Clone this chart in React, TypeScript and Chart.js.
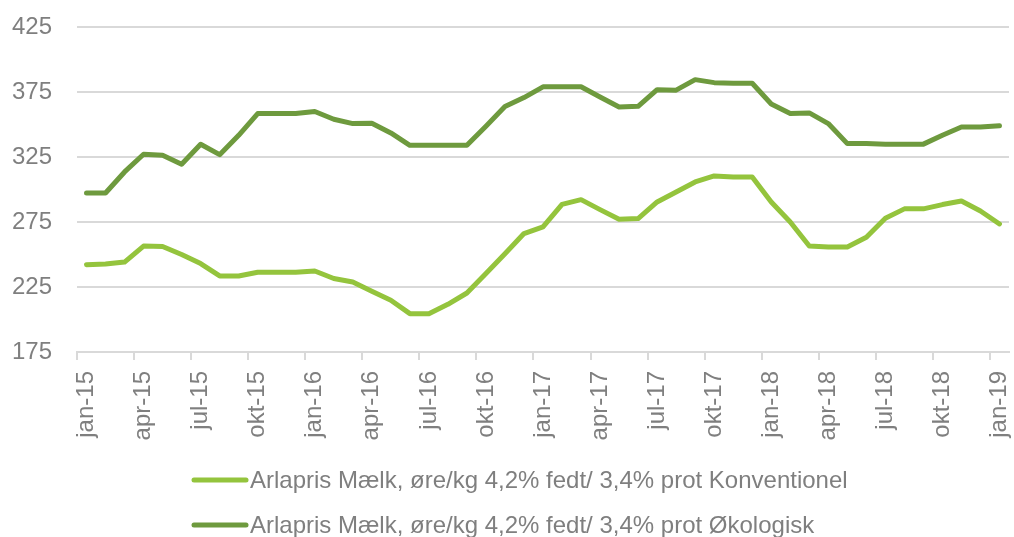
import React, { useEffect, useRef } from "react";
import { Chart, registerables } from "chart.js";

Chart.register(...registerables);

const months: string[] = [
  "jan-15", "feb-15", "mar-15", "apr-15", "maj-15", "jun-15", "jul-15", "aug-15", "sep-15", "okt-15", "nov-15", "dec-15",
  "jan-16", "feb-16", "mar-16", "apr-16", "maj-16", "jun-16", "jul-16", "aug-16", "sep-16", "okt-16", "nov-16", "dec-16",
  "jan-17", "feb-17", "mar-17", "apr-17", "maj-17", "jun-17", "jul-17", "aug-17", "sep-17", "okt-17", "nov-17", "dec-17",
  "jan-18", "feb-18", "mar-18", "apr-18", "maj-18", "jun-18", "jul-18", "aug-18", "sep-18", "okt-18", "nov-18", "dec-18",
  "jan-19",
];

const konventionel: number[] = [
  242.2, 242.7, 244.2, 256.5, 256.2, 250.0, 243.0, 233.5, 233.5, 236.3, 236.3, 236.3,
  237.3, 231.5, 228.8, 221.7, 214.8, 204.5, 204.5, 211.7, 220.4, 235.3, 250.5, 266.1,
  271.2, 288.6, 292.2, 284.5, 277.1, 277.6, 290.4, 298.1, 305.8, 310.4, 309.6, 309.6,
  290.4, 275.0, 256.5, 255.8, 255.8, 263.3, 277.9, 285.1, 285.1, 288.4, 291.2, 283.5,
  273.5,
];

const oekologisk: number[] = [
  297.3, 297.3, 313.5, 327.1, 326.3, 319.4, 334.8, 326.8, 341.7, 358.4, 358.4, 358.4,
  360.0, 354.0, 350.7, 351.0, 343.5, 334.0, 334.0, 334.0, 334.0, 348.6, 363.8, 370.7,
  379.0, 379.0, 379.0, 371.2, 363.5, 364.0, 376.8, 376.4, 384.5, 382.2, 381.7, 381.7,
  365.8, 358.4, 358.9, 350.7, 335.3, 335.3, 334.9, 334.9, 334.9, 341.7, 348.1, 348.1,
  349.1,
];

const seriesNames: string[] = [
  "Arlapris Mælk, øre/kg 4,2% fedt/ 3,4% prot Konventionel",
  "Arlapris Mælk, øre/kg 4,2% fedt/ 3,4% prot Økologisk",
];

const LIGHT = "#94C43D";
const DARK = "#6E9A3E";
const TEXT = "#7F7F7F";
const GRID = "#D9D9D9";
const FONT = "'Liberation Sans', Arial, sans-serif";

const legendPlugin = {
  id: "customLegend",
  afterDraw(chart: any) {
    const ctx = chart.ctx;
    const items = chart.data.datasets.map((d: any) => ({ label: d.label, color: d.borderColor }));
    const rows = [480, 525];
    ctx.save();
    items.forEach((it: any, i: number) => {
      const y = rows[i];
      ctx.strokeStyle = it.color;
      ctx.lineWidth = 5;
      ctx.lineCap = "round";
      ctx.beginPath();
      ctx.moveTo(194, y);
      ctx.lineTo(246, y);
      ctx.stroke();
      ctx.fillStyle = TEXT;
      ctx.font = `24px ${FONT}`;
      ctx.textBaseline = "middle";
      ctx.textAlign = "left";
      ctx.fillText(it.label, 250, y + 1);
    });
    ctx.restore();
  },
};

export default function App() {
  const ref = useRef<HTMLCanvasElement | null>(null);

  useEffect(() => {
    if (!ref.current) return;
    const chart = new Chart(ref.current, {
      type: "line",
      data: {
        labels: months,
        datasets: [
          {
            label: seriesNames[0],
            data: konventionel,
            borderColor: LIGHT,
            backgroundColor: LIGHT,
            borderWidth: 5,
            pointRadius: 0,
            tension: 0,
            borderCapStyle: "round",
            borderJoinStyle: "round",
          },
          {
            label: seriesNames[1],
            data: oekologisk,
            borderColor: DARK,
            backgroundColor: DARK,
            borderWidth: 5,
            pointRadius: 0,
            tension: 0,
            borderCapStyle: "round",
            borderJoinStyle: "round",
          },
        ],
      },
      options: {
        animation: false,
        responsive: false,
        devicePixelRatio: 1,
        layout: { padding: { top: 27, right: 5, left: 0, bottom: 0 } },
        plugins: {
          legend: { display: false },
          tooltip: { enabled: false },
        },
        scales: {
          x: {
            offset: true,
            grid: {
              offset: true,
              drawOnChartArea: false,
              drawTicks: true,
              tickLength: 8,
              lineWidth: 2,
              color: (c: any) => (c.index % 3 === 0 ? GRID : "rgba(0,0,0,0)"),
            },
            border: { display: true, color: GRID, width: 2 },
            ticks: {
              autoSkip: false,
              minRotation: 90,
              maxRotation: 90,
              padding: 11,
              color: TEXT,
              font: { family: FONT, size: 24 },
              callback: (_v: any, i: number) => (i % 3 === 0 ? months[i] : ""),
            },
            afterFit: (scale: any) => {
              scale.height = 185;
              scale.paddingLeft = 0;
              scale.paddingRight = 0;
            },
          },
          y: {
            min: 175,
            max: 425,
            grid: { color: GRID, lineWidth: 2, drawTicks: false },
            border: { display: false },
            ticks: {
              stepSize: 50,
              padding: 25,
              color: TEXT,
              font: { family: FONT, size: 24 },
            },
            afterFit: (scale: any) => {
              scale.width = 77;
              scale.paddingTop = 0;
              scale.paddingBottom = 0;
            },
          },
        },
      },
      plugins: [legendPlugin],
    });
    return () => chart.destroy();
  }, []);

  return (
    <div style={{ position: "absolute", left: 0, top: 0, width: 1014, height: 537, overflow: "hidden", background: "#fff" }}>
      <canvas ref={ref} width={1014} height={537} style={{ display: "block" }} />
    </div>
  );
}
